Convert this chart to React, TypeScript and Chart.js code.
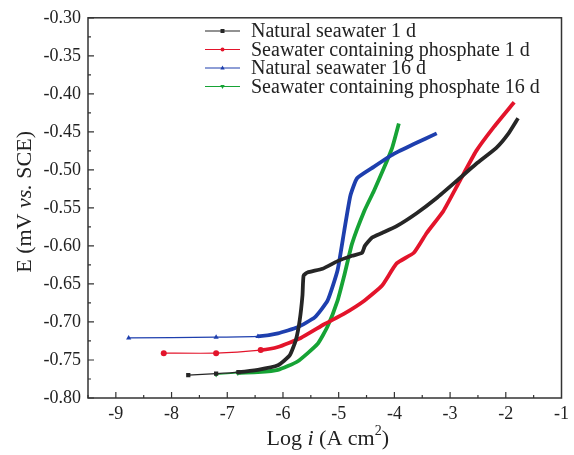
import React, { useEffect, useRef } from "react";
import { Chart, registerables } from "chart.js";

Chart.register(...registerables);

const seriesLabels = [
  "Natural seawater 1 d",
  "Seawater containing phosphate 1 d",
  "Natural seawater 16 d",
  "Seawater containing phosphate 16 d",
];

const natural1dX = [-7.7, -7.2, -6.8, -6.45, -6.09, -5.88, -5.77, -5.7, -5.65, -5.63, -5.56, -5.29, -5.02, -4.76, -4.58, -4.53, -4.4, -4.22, -3.96, -3.6, -3.24, -2.89, -2.53, -2.17, -1.96, -1.78];
const natural1dY = [-0.77, -0.768, -0.766, -0.763, -0.757, -0.744, -0.724, -0.698, -0.665, -0.639, -0.635, -0.63, -0.62, -0.613, -0.609, -0.6, -0.589, -0.583, -0.574, -0.557, -0.537, -0.515, -0.492, -0.471, -0.453, -0.432];

const phosphate1dX = [-8.14, -7.2, -6.4, -6.09, -5.68, -5.26, -4.9, -4.54, -4.22, -3.96, -3.65, -3.42, -3.12, -2.83, -2.53, -2.23, -1.85];
const phosphate1dY = [-0.741, -0.741, -0.737, -0.733, -0.721, -0.703, -0.689, -0.672, -0.652, -0.623, -0.609, -0.583, -0.554, -0.515, -0.475, -0.445, -0.411];

const natural16dX = [-8.77, -7.2, -6.45, -6.09, -5.74, -5.43, -5.2, -5.02, -4.9, -4.79, -4.67, -4.37, -4.01, -3.65, -3.24];
const natural16dY = [-0.721, -0.72, -0.719, -0.715, -0.707, -0.694, -0.672, -0.632, -0.58, -0.534, -0.511, -0.496, -0.479, -0.466, -0.452];

const phosphate16dX = [-7.2, -6.81, -6.45, -6.09, -5.74, -5.38, -5.2, -5.02, -4.9, -4.76, -4.54, -4.37, -4.19, -4.04, -3.92];
const phosphate16dY = [-0.769, -0.767, -0.766, -0.763, -0.752, -0.729, -0.706, -0.672, -0.639, -0.597, -0.554, -0.528, -0.498, -0.471, -0.439];

const xTicks = [-9, -8, -7, -6, -5, -4, -3, -2, -1];
const yTicks = [-0.8, -0.75, -0.7, -0.65, -0.6, -0.55, -0.5, -0.45, -0.4, -0.35, -0.3];

const colors = ["#262626", "#e3142b", "#1e3fae", "#16a335"];
const styles = ["rect", "circle", "triangle", "triangle"];
const rotations = [0, 0, 0, 180];
const thinCounts = [2, 2, 2, 1];
const markerCounts = [3, 3, 3, 2];

const SERIF = "'Liberation Serif', 'DejaVu Serif', serif";

function drawMarker(ctx: CanvasRenderingContext2D, style: string, rot: number, x: number, y: number, r: number) {
  ctx.save();
  ctx.translate(x, y);
  ctx.rotate((rot * Math.PI) / 180);
  ctx.beginPath();
  if (style === "rect") {
    ctx.rect(-r, -r, 2 * r, 2 * r);
  } else if (style === "circle") {
    ctx.arc(0, 0, r, 0, Math.PI * 2);
  } else {
    ctx.moveTo(0, -r * 1.2);
    ctx.lineTo(r * 1.1, r * 0.8);
    ctx.lineTo(-r * 1.1, r * 0.8);
    ctx.closePath();
  }
  ctx.fill();
  ctx.restore();
}

function drawRuns(ctx: CanvasRenderingContext2D, runs: { t: string; italic?: boolean; sup?: boolean }[], size: number, cx: number, cy: number) {
  const fontFor = (r: any) => `${r.italic ? "italic " : ""}${r.sup ? Math.round(size * 0.65) : size}px ${SERIF}`;
  let total = 0;
  for (const r of runs) {
    ctx.font = fontFor(r);
    total += ctx.measureText(r.t).width;
  }
  let x = cx - total / 2;
  ctx.textAlign = "left";
  ctx.textBaseline = "middle";
  for (const r of runs) {
    ctx.font = fontFor(r);
    ctx.fillText(r.t, x, r.sup ? cy - size * 0.35 : cy);
    x += ctx.measureText(r.t).width;
  }
}

const framePlugin = {
  id: "frame",
  afterDraw(chart: any) {
    const ctx: CanvasRenderingContext2D = chart.ctx;
    const { left, right, top, bottom } = chart.chartArea;
    const xs = chart.scales.x;
    const ys = chart.scales.y;
    ctx.save();
    ctx.strokeStyle = "#333";
    ctx.lineWidth = 1.5;
    ctx.strokeRect(left, top, right - left, bottom - top);
    ctx.lineWidth = 1.2;
    ctx.beginPath();
    for (let v = -9.5; v <= -1.001; v += 0.5) {
      const px = xs.getPixelForValue(v);
      const major = Math.abs(v - Math.round(v)) < 1e-6;
      ctx.moveTo(px, bottom);
      ctx.lineTo(px, bottom - (major ? 6 : 3));
    }
    for (let i = 0; i <= 20; i++) {
      const v = -0.8 + i * 0.025;
      const py = ys.getPixelForValue(v);
      const major = i % 2 === 0;
      ctx.moveTo(left, py);
      ctx.lineTo(left + (major ? 6 : 3), py);
    }
    ctx.stroke();

    // axis titles
    ctx.fillStyle = "#222";
    drawRuns(ctx, [{ t: "Log " }, { t: "i", italic: true }, { t: " (A cm" }, { t: "2", sup: true }, { t: ")" }], 22, (left + right) / 2 + 3, 439);
    ctx.save();
    ctx.translate(25, (top + bottom) / 2 - 6);
    ctx.rotate(-Math.PI / 2);
    drawRuns(ctx, [{ t: "E (mV " }, { t: "vs.", italic: true }, { t: " SCE)" }], 22, 0, 0);
    ctx.restore();

    // legend
    const rowY = [31, 49.5, 68, 86.5];
    ctx.font = `20px ${SERIF}`;
    ctx.textAlign = "left";
    ctx.textBaseline = "middle";
    seriesLabels.forEach((lab, i) => {
      const y = rowY[i];
      ctx.strokeStyle = colors[i];
      ctx.lineWidth = 1.2;
      ctx.beginPath();
      ctx.moveTo(205, y);
      ctx.lineTo(240, y);
      ctx.stroke();
      ctx.fillStyle = colors[i];
      drawMarker(ctx, styles[i], rotations[i], 222.5, y, 2);
      ctx.fillStyle = "#222";
      ctx.fillText(lab, 251, y + 1);
    });
    ctx.restore();
  },
};

export default function App() {
  const ref = useRef<HTMLCanvasElement>(null);
  useEffect(() => {
    document.body.style.margin = "0";
    const canvas = ref.current!;
    const xsAll = [natural1dX, phosphate1dX, natural16dX, phosphate16dX];
    const ysAll = [natural1dY, phosphate1dY, natural16dY, phosphate16dY];
    const datasets = seriesLabels.map((label, i) => ({
      label,
      data: xsAll[i].map((x, j) => ({ x, y: ysAll[i][j] })),
      showLine: true,
      borderColor: colors[i],
      backgroundColor: colors[i],
      borderWidth: 3.5,
      tension: 0.15,
      pointStyle: styles[i] as any,
      rotation: rotations[i],
      pointRadius: xsAll[i].map((_, j) => (j < markerCounts[i] ? 3 : 0)),
      pointBorderWidth: 0,
      segment: {
        borderWidth: (c: any) => (c.p0DataIndex < thinCounts[i] ? 1.2 : 3.8),
      },
    }));
    const chart = new Chart(canvas, {
      type: "scatter",
      data: { datasets },
      options: {
        animation: false,
        responsive: false,
        events: [],
        layout: { padding: { top: 16, right: 7, left: 0, bottom: 0 } },
        plugins: { legend: { display: false }, tooltip: { enabled: false } },
        scales: {
          x: {
            type: "linear",
            min: -9.5,
            max: -1,
            afterFit: (s: any) => {
              s.height = 57;
            },
            afterBuildTicks: (s: any) => {
              s.ticks = xTicks.map((v) => ({ value: v }));
            },
            grid: { display: false, drawTicks: false, tickLength: 0 },
            border: { display: false },
            ticks: {
              font: { family: SERIF, size: 18 },
              color: "#222",
              padding: 5,
              maxRotation: 0,
              callback: (v: any) => String(v),
            },
          },
          y: {
            type: "linear",
            min: -0.8,
            max: -0.3,
            afterFit: (s: any) => {
              s.width = 88;
            },
            afterBuildTicks: (s: any) => {
              s.ticks = yTicks.map((v) => ({ value: v }));
            },
            grid: { display: false, drawTicks: false, tickLength: 0 },
            border: { display: false },
            ticks: {
              font: { family: SERIF, size: 18 },
              color: "#222",
              padding: 7,
              callback: (v: any) => Number(v).toFixed(2),
            },
          },
        },
      },
      plugins: [framePlugin],
    });
    return () => chart.destroy();
  }, []);
  return <canvas ref={ref} width={574} height={455} style={{ display: "block" }} />;
}
